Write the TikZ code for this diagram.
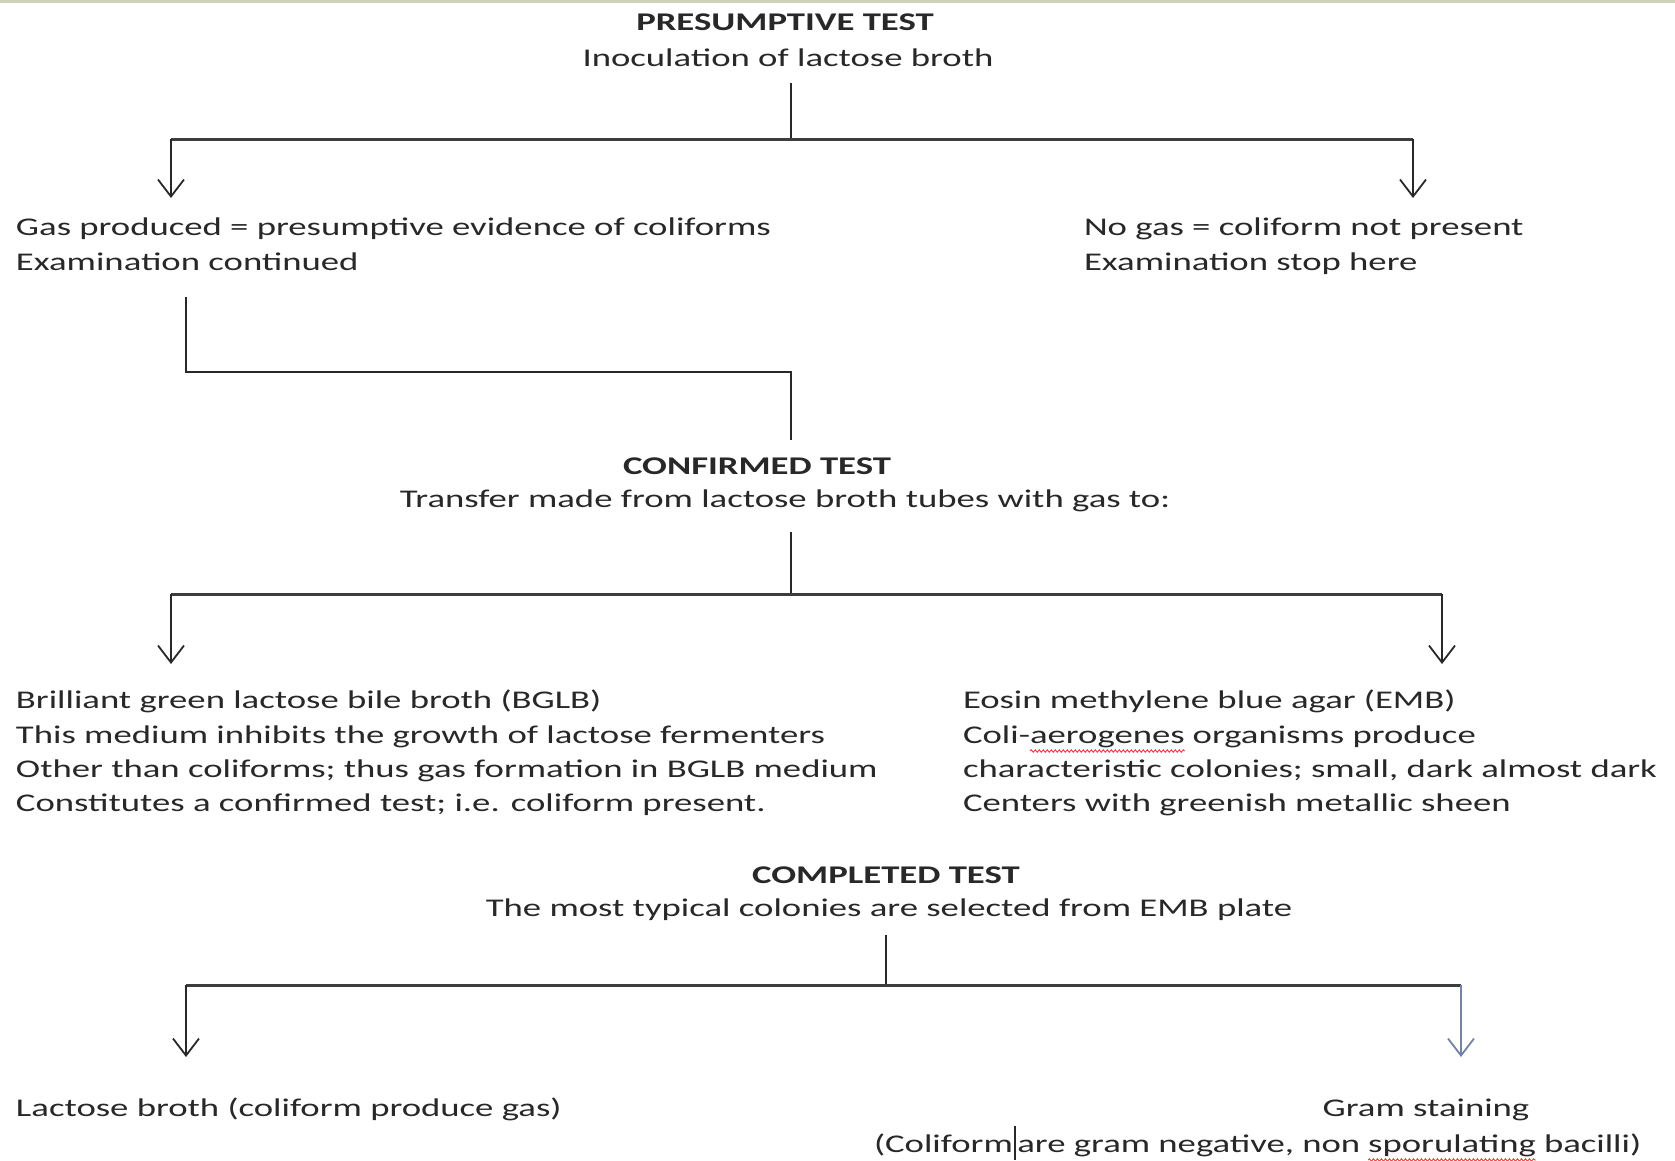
\documentclass[tikz,border=0pt]{standalone}
\usepackage{fontspec}
\setmainfont{Carlito}[FakeStretch=1.44]
\usetikzlibrary{arrows.meta,decorations.pathmorphing}
\definecolor{ink}{RGB}{40,40,40}
\definecolor{arrblue}{RGB}{115,130,165}
\definecolor{topline}{RGB}{205,210,185}
\begin{document}
\begin{tikzpicture}[x=1pt,y=-1pt,
  every node/.style={inner sep=0pt, outer sep=0pt, text=ink, text height=19pt, text depth=7pt, font=\fontsize{25.5}{33}\selectfont},
  head/.style={anchor=base, font=\fontsize{25.5}{33}\selectfont\bfseries},
  ctr/.style={anchor=base},
  lft/.style={anchor=base west},
  conn/.style={draw=ink, line width=1.8pt},
  bar/.style={draw=ink!90, line width=3pt},
  arr/.style={conn, -{Straight Barb[length=17pt,width=26pt,line width=1.8pt]}},
  wave/.style={draw=red!80, line width=0.9pt, decorate, decoration={snake, amplitude=1.2pt, segment length=4pt}},
]
\useasboundingbox (0,0) rectangle (1675,1160);
\fill[white] (0,0) rectangle (1675,1160);
\fill[topline] (0,0) rectangle (1675,2.5);

% ---------- presumptive ----------
\node[head] (pt) at (785,30) {PRESUMPTIVE TEST};
\node[ctr] (pi) at (788,66) {Inoculation of lactose broth};
\coordinate (j1) at (791,139);
\coordinate (j1l) at (171,139);
\coordinate (j1r) at (1413,139);
\node[lft] (g1) at (16,235) {Gas produced = presumptive evidence of coliforms};
\node[lft] (g2) at (16,270) {Examination continued};
\node[lft] (n1) at (1084,235) {No gas = coliform not present};
\node[lft] (n2) at (1084,270) {Examination stop here};
\draw[conn] (pi.south -| j1) ++(0,10) -- (j1);
\draw[bar] (j1l) -- (j1r);
\draw[arr, shorten >=18pt] (j1l) -- (g1.north -| j1l);
\draw[arr, shorten >=18pt] (j1r) -- (n1.north -| j1r);

% ---------- confirmed ----------
\node[head] (ct) at (757,474) {CONFIRMED TEST};
\node[ctr] (tr) at (785,507) {Transfer made from lactose broth tubes with gas to:};
\coordinate (k1) at (186,372);
\coordinate (k2) at (791,372);
\draw[conn] (g2.south -| k1) ++(0,20) -- (k1) -- (k2) -- ([yshift=15pt]ct.north -| k2);

\coordinate (j2) at (791,594);
\coordinate (j2l) at (171,594);
\coordinate (j2r) at (1442,594);
\node[lft] (b1) at (16,708) {Brilliant green lactose bile broth (BGLB)};
\node[lft] (b2) at (16,743) {This medium inhibits the growth of lactose fermenters};
\node[lft] (b3) at (16,777) {Other than coliforms; thus gas formation in BGLB medium};
\node[lft] (b4) at (16,811) {Constitutes a confirmed test; i.e. coliform present.};
\node[lft] (e1) at (963,708) {Eosin methylene blue agar (EMB)};
\node[lft] (e2a) at (963,743) {Coli-};
\node[lft] (e2b) at (e2a.base east) {aerogenes};
\node[lft] (e2c) at ([xshift=8pt]e2b.base east) {organisms produce};
\node[lft] (e3) at (963,777) {characteristic colonies; small, dark almost dark};
\node[lft] (e4) at (963,811) {Centers with greenish metallic sheen};
\draw[wave] ([yshift=-1pt]e2b.south west) -- ([yshift=-1pt]e2b.south east);
\draw[conn] (tr.south -| j2) ++(0,18) -- (j2);
\draw[bar] (j2l) -- (j2r);
\draw[arr, shorten >=25pt] (j2l) -- (b1.north -| j2l);
\draw[arr, shorten >=25pt] (j2r) -- (e1.north -| j2r);

% ---------- completed ----------
\node[head] (cp) at (886,883) {COMPLETED TEST};
\node[ctr] (tm) at (889,916) {The most typical colonies are selected from EMB plate};
\coordinate (j3) at (886,985);
\coordinate (j3l) at (186,985);
\coordinate (j3r) at (1461,985);
\node[lft] (l1) at (16,1116) {Lactose broth (coliform produce gas)};
\node[ctr] (gs) at (1426,1116) {Gram staining};
\node[lft] (gn1) at (874,1152) {(Coliform\kern1pt\rule[-8pt]{2.5pt}{34pt}\kern1pt are gram negative, non};
\node[lft] (gn2) at ([xshift=8pt]gn1.base east) {sporulating};
\node[lft] (gn3) at ([xshift=8pt]gn2.base east) {bacilli)};
\draw[wave] ([yshift=-1pt]gn2.south west) -- ([yshift=-1pt]gn2.south east);
\draw[conn] (tm.south -| j3) ++(0,12) -- (j3);
\draw[bar] (j3l) -- (j3r);
\draw[arr, shorten >=40pt] (j3l) -- (l1.north -| j3l);
\draw[arr, draw=arrblue, shorten >=40pt] (j3r) -- (gs.north -| j3r);
\end{tikzpicture}
\end{document}
